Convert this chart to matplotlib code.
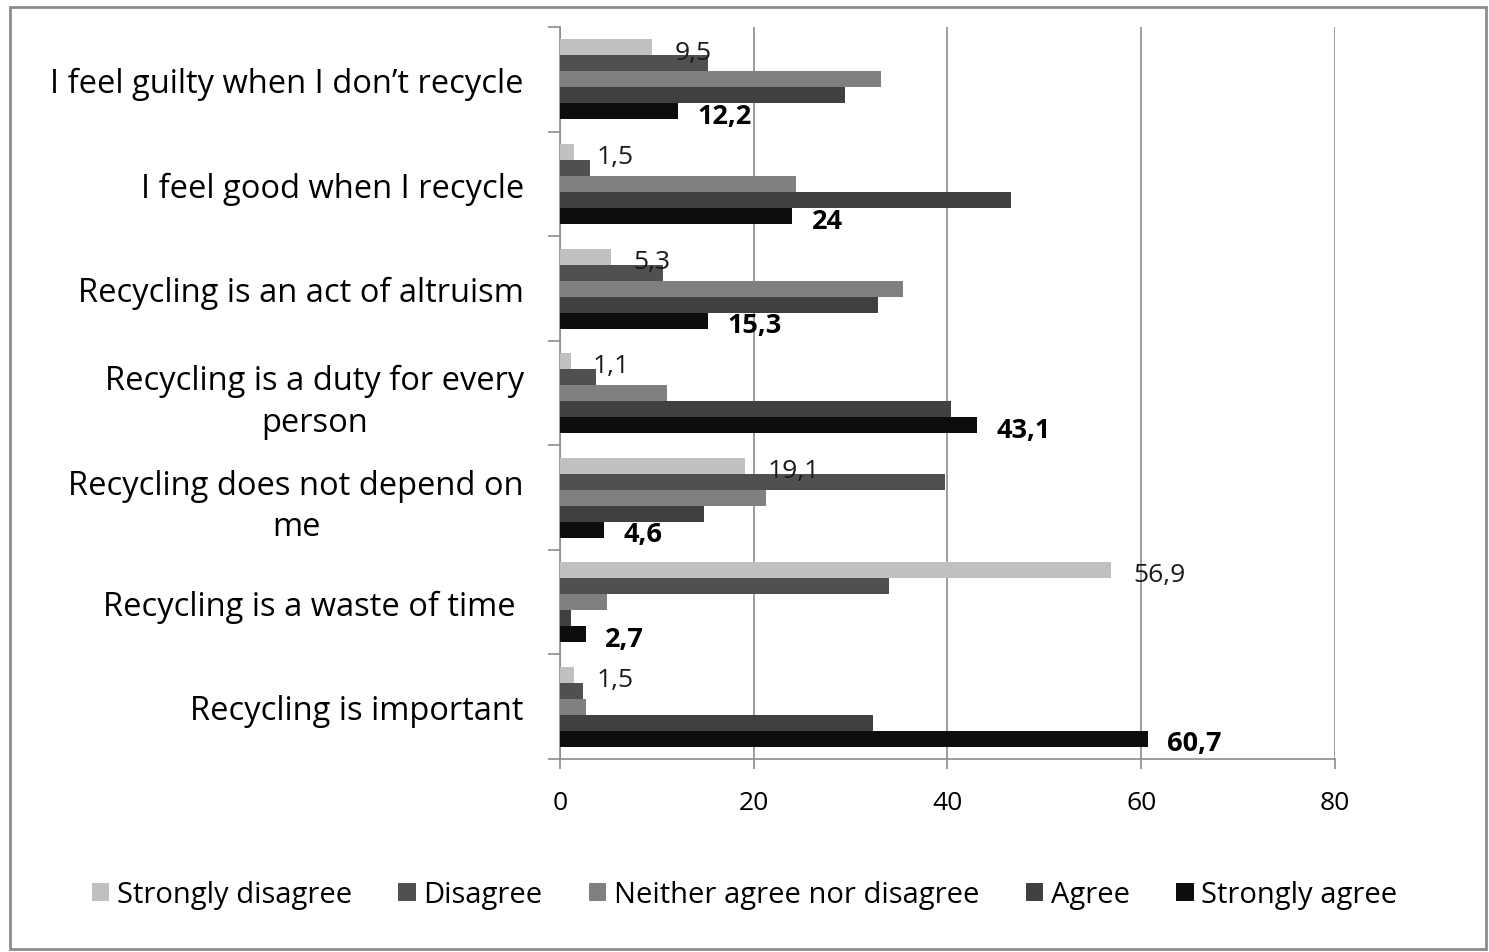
import matplotlib
matplotlib.use("Agg")
import matplotlib.pyplot as plt
from matplotlib.patches import Rectangle
import numpy as np

# Survey statements (top to bottom) and response shares in percent
statements = [
    "I feel guilty when I don\u2019t recycle",
    "I feel good when I recycle",
    "Recycling is an act of altruism",
    "Recycling is a duty for every\nperson",
    "Recycling does not depend on\nme",
    "Recycling is a waste of time ",
    "Recycling is important",
]
responses = ["Strongly disagree", "Disagree", "Neither agree nor disagree",
             "Agree", "Strongly agree"]

strongly_disagree = [9.5, 1.5, 5.3, 1.1, 19.1, 56.9, 1.5]
disagree = [15.3, 3.1, 10.6, 3.7, 39.7, 34.0, 2.4]
neither = [33.1, 24.4, 35.4, 11.1, 21.3, 4.9, 2.7]
agree = [29.4, 46.6, 32.8, 40.4, 14.9, 1.1, 32.3]
strongly_agree = [12.2, 24.0, 15.3, 43.1, 4.6, 2.7, 60.7]

x_ticks = [0, 20, 40, 60, 80]

series = [strongly_disagree, disagree, neither, agree, strongly_agree]
colors = ["#c0c0c0", "#505050", "#808080", "#404040", "#0d0d0d"]

plt.rcParams["font.family"] = ["Open Sans", "DejaVu Sans"]
FS_CAT = 23.5
FS_LEG = 21
FS_TICK = 19
FS_VAL = 19
FS_BOLD = 19.5

fig = plt.figure(figsize=(14.89, 9.53), dpi=100)
ax = fig.add_axes([0.376, 0.2025, 0.5206, 0.768])

n = len(statements)
y = np.arange(n)
h = 0.153
for j, (vals, col, name) in enumerate(zip(series, colors, responses)):
    offs = (j - 2) * h
    ax.barh(y + offs, vals, height=h, color=col, label=name, zorder=3)


def fmt(v):
    s = f"{v:g}"
    return s.replace(".", ",")


# value labels on the extreme response categories
for i in range(n):
    v = strongly_disagree[i]
    ax.text(v + 2.3, y[i] - 2 * h + 0.045, fmt(v), ha="left", va="center",
            fontsize=FS_VAL, color="#1a1a1a", zorder=4)
    v = strongly_agree[i]
    ax.text(v + 2.0, y[i] + 2 * h + 0.045, fmt(v), ha="left", va="center",
            fontsize=FS_BOLD, fontweight="bold", color="black", zorder=4)

ax.set_xlim(0, 80)
ax.set_ylim(n - 0.5, -0.5)
ax.set_xticks(x_ticks)
ax.set_xticklabels([str(t) for t in x_ticks], fontsize=FS_TICK)
ax.xaxis.grid(True, color="#8c8c8c", linewidth=1.2, zorder=0)
ax.set_axisbelow(True)

ax.set_yticks(y)
ax.set_yticklabels(statements, fontsize=FS_CAT, multialignment="center",
                   linespacing=1.35)
ax.tick_params(axis="y", length=0, pad=26)
ax.set_yticks(np.arange(-0.5, n, 1.0), minor=True)
ax.tick_params(axis="y", which="minor", length=8.5, width=1.2, color="#8c8c8c")
ax.tick_params(axis="x", length=7, width=1.2, color="#8c8c8c", pad=15)

for s in ["top", "right"]:
    ax.spines[s].set_visible(False)
for s in ["left", "bottom"]:
    ax.spines[s].set_color("#8c8c8c")
    ax.spines[s].set_linewidth(1.2)

leg = fig.legend(loc="center", bbox_to_anchor=(0.5, 0.06), ncol=5, frameon=False,
                 fontsize=FS_LEG, handlelength=0.6, handleheight=0.6,
                 handletextpad=0.25, columnspacing=1.6)

# outer chart frame
fig.patches.append(Rectangle((0.0067, 0.003), 0.9913, 0.9886, transform=fig.transFigure,
                             fill=False, edgecolor="#8c8c8c", linewidth=2))

fig.savefig("out.png", dpi=100)
